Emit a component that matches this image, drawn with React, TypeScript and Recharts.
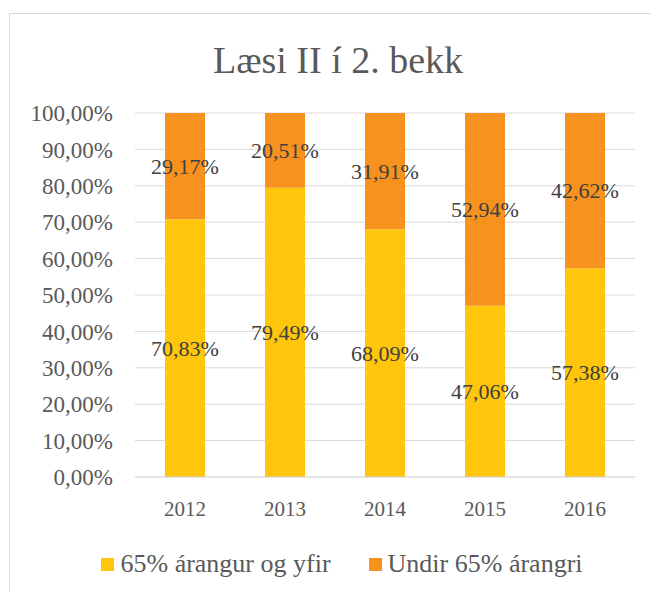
import React from 'react';
import {
  BarChart,
  Bar,
  XAxis,
  YAxis,
  CartesianGrid,
  Legend,
  LabelList
} from 'recharts';

const years = ['2012', '2013', '2014', '2015', '2016'];
const overValues = [70.83, 79.49, 68.09, 47.06, 57.38];
const underValues = [29.17, 20.51, 31.91, 52.94, 42.62];
const yTicks = [0, 0.1, 0.2, 0.3, 0.4, 0.5, 0.6, 0.7, 0.8, 0.9, 1];

const seriesNames = {
  over: '65% árangur og yfir',
  under: 'Undir 65% árangri'
};

const data = years.map((year, i) => ({
  year,
  over: overValues[i] / 100,
  under: underValues[i] / 100
}));

const FONT = '"Liberation Serif", serif';
const TEXT = '#595959';

const pct = (v: any) => `${(Number(v) * 100).toFixed(2).replace('.', ',')}%`;

const renderLegend = (props: any) => {
  const { payload } = props;
  return (
    <div style={{ display: 'flex', justifyContent: 'center', fontFamily: FONT }}>
      {payload.map((entry: any, i: number) => (
        <div
          key={i}
          style={{
            display: 'flex',
            alignItems: 'center',
            marginRight: i < payload.length - 1 ? 38 : 0
          }}
        >
          <span
            style={{
              width: 13,
              height: 13,
              background: entry.color,
              display: 'inline-block',
              marginRight: 6
            }}
          />
          <span style={{ fontSize: 26, color: TEXT }}>{entry.value}</span>
        </div>
      ))}
    </div>
  );
};

const App: React.FC = () => {
  return (
    <div style={{ position: 'relative', width: 651, height: 584, overflow: 'hidden' }}>
      <div
        style={{
          position: 'absolute',
          left: 1,
          top: 5,
          width: 700,
          height: 700,
          border: '1px solid #d9d9d9',
          boxSizing: 'border-box'
        }}
      />
      <div
        style={{
          position: 'absolute',
          left: 0,
          top: 30,
          width: 660,
          textAlign: 'center',
          fontFamily: FONT,
          fontSize: 38,
          color: TEXT
        }}
      >
        Læsi II í 2. bekk
      </div>
      <div style={{ position: 'absolute', left: 0, top: 0 }}>
        <BarChart
          width={651}
          height={584}
          data={data}
          margin={{ top: 105, right: 24, left: 0, bottom: 65 }}
        >
          <CartesianGrid vertical={false} stroke="#d9d9d9" />
          <XAxis
            dataKey="year"
            axisLine={{ stroke: '#d9d9d9' }}
            tickLine={false}
            tickMargin={18}
            height={50}
            tick={{ fill: TEXT, fontSize: 21, fontFamily: FONT }}
          />
          <YAxis
            width={127}
            domain={[0, 1]}
            ticks={yTicks}
            tickFormatter={pct}
            axisLine={false}
            tickLine={false}
            tickMargin={16}
            tick={{ fill: TEXT, fontSize: 23, fontFamily: FONT }}
          />
          <Legend
            verticalAlign="middle"
            content={renderLegend}
            wrapperStyle={{ top: 541, left: 0, width: 668 }}
          />
          <Bar
            dataKey="over"
            name={seriesNames.over}
            stackId="a"
            fill="#FFC60B"
            barSize={40}
            isAnimationActive={false}
          >
            <LabelList
              dataKey="over"
              position="center"
              formatter={pct}
              style={{ fill: '#404040', fontSize: 22, fontFamily: FONT }}
            />
          </Bar>
          <Bar
            dataKey="under"
            name={seriesNames.under}
            stackId="a"
            fill="#F7921E"
            barSize={40}
            isAnimationActive={false}
          >
            <LabelList
              dataKey="under"
              position="center"
              formatter={pct}
              style={{ fill: '#404040', fontSize: 22, fontFamily: FONT }}
            />
          </Bar>
        </BarChart>
      </div>
    </div>
  );
};

export default App;
